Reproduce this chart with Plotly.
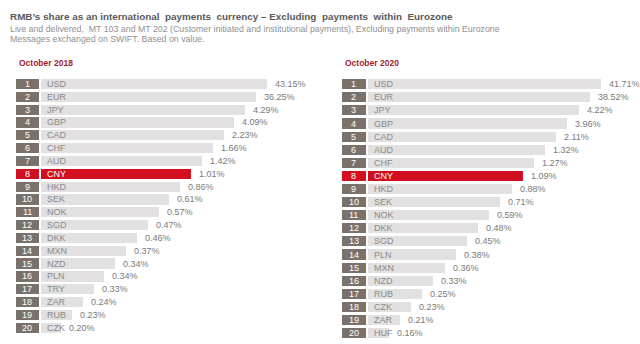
import plotly.graph_objects as go

# ---------------- data ----------------
ranks = list(range(1, 21))

cur_2018 = ["USD", "EUR", "JPY", "GBP", "CAD", "CHF", "AUD", "CNY", "HKD", "SEK",
            "NOK", "SGD", "DKK", "MXN", "NZD", "PLN", "TRY", "ZAR", "RUB", "CZK"]
val_2018 = [43.15, 36.25, 4.29, 4.09, 2.23, 1.66, 1.42, 1.01, 0.86, 0.61,
            0.57, 0.47, 0.46, 0.37, 0.34, 0.34, 0.33, 0.24, 0.23, 0.20]

cur_2020 = ["USD", "EUR", "JPY", "GBP", "CAD", "AUD", "CHF", "CNY", "HKD", "SEK",
            "NOK", "DKK", "SGD", "PLN", "MXN", "NZD", "RUB", "CZK", "ZAR", "HUF"]
val_2020 = [41.71, 38.52, 4.22, 3.96, 2.11, 1.32, 1.27, 1.09, 0.88, 0.71,
            0.59, 0.48, 0.45, 0.38, 0.36, 0.33, 0.25, 0.23, 0.21, 0.16]

highlight = "CNY"
title = "RMB\u2019s share as an international  payments  currency \u2013 Excluding  payments  within  Eurozone"
subtitle1 = "Live and delivered,  MT 103 and MT 202 (Customer initiated and institutional payments), Excluding payments within Eurozone"
subtitle2 = "Messages exchanged on SWIFT. Based on value."
panel_titles = ["October 2018", "October 2020"]

# ---------------- style ----------------
FONT = "Arial, Liberation Sans, sans-serif"
BOX = "#7b716b"
BAR = "#e2e0e0"
RED = "#d20f1f"
DARKRED = "#a31b34"
TXT = "#8a8a8a"
VTXT = "#7a7a7a"
BOX_BASE = -2.33
BOX_W = 2.15

fig = go.Figure()

panels = [
    dict(cur=cur_2018, val=val_2018, xa="x", ya="y", bw=0.80),
    dict(cur=cur_2020, val=val_2020, xa="x2", ya="y2", bw=0.77),
]

annotations = []
for p in panels:
    # The infographic's bar length encodes the rank (not the value)
    lengths = [21.85 - r for r in ranks]
    bar_cols = [RED if c == highlight else BAR for c in p["cur"]]
    box_cols = [RED if c == highlight else BOX for c in p["cur"]]
    fig.add_trace(go.Bar(
        y=ranks, x=[BOX_W] * len(ranks), base=BOX_BASE, orientation="h",
        marker=dict(color=box_cols, line=dict(width=0)), width=p["bw"],
        xaxis=p["xa"], yaxis=p["ya"], hoverinfo="skip", showlegend=False))
    fig.add_trace(go.Bar(
        y=ranks, x=lengths, base=0, orientation="h",
        marker=dict(color=bar_cols, line=dict(width=0)), width=p["bw"],
        xaxis=p["xa"], yaxis=p["ya"], hoverinfo="skip", showlegend=False))
    for r, c, v, L in zip(ranks, p["cur"], p["val"], lengths):
        hi = c == highlight
        annotations.append(dict(
            x=BOX_BASE + BOX_W / 2, y=r, xref=p["xa"], yref=p["ya"], text=str(r),
            showarrow=False, xanchor="center", yanchor="middle",
            font=dict(family=FONT, size=9, color="white")))
        annotations.append(dict(
            x=0, y=r, xref=p["xa"], yref=p["ya"], text=c, xshift=4,
            showarrow=False, xanchor="left", yanchor="middle",
            font=dict(family=FONT, size=9, color="white" if hi else TXT)))
        annotations.append(dict(
            x=L, y=r, xref=p["xa"], yref=p["ya"], text=f"{v:.2f}%", xshift=6,
            showarrow=False, xanchor="left", yanchor="middle",
            font=dict(family=FONT, size=9, color=VTXT)))

H = 344.0
def py(px):
    return 1 - px / H

annotations += [
    dict(x=8 / 640, y=py(16.5), xref="paper", yref="paper", text=f"<b>{title}</b>",
         showarrow=False, xanchor="left", yanchor="middle",
         font=dict(family=FONT, size=9.9, color="#595959")),
    dict(x=8 / 640, y=py(29), xref="paper", yref="paper", text=subtitle1,
         showarrow=False, xanchor="left", yanchor="middle",
         font=dict(family=FONT, size=8.8, color="#8f8f8f")),
    dict(x=8 / 640, y=py(39.5), xref="paper", yref="paper", text=subtitle2,
         showarrow=False, xanchor="left", yanchor="middle",
         font=dict(family=FONT, size=8.8, color="#8f8f8f")),
    dict(x=17 / 640, y=py(63), xref="paper", yref="paper", text=f"<b>{panel_titles[0]}</b>",
         showarrow=False, xanchor="left", yanchor="middle",
         font=dict(family=FONT, size=8.5, color=DARKRED)),
    dict(x=343 / 640, y=py(63), xref="paper", yref="paper", text=f"<b>{panel_titles[1]}</b>",
         showarrow=False, xanchor="left", yanchor="middle",
         font=dict(family=FONT, size=8.5, color=DARKRED)),
]

kL, x0L = 10.84, 41.0
kR, x0R = 11.17, 368.0
ax_common = dict(visible=False, showgrid=False, zeroline=False, fixedrange=True)
fig.update_layout(
    width=640, height=344,
    margin=dict(l=0, r=0, t=0, b=0),
    paper_bgcolor="white", plot_bgcolor="rgba(0,0,0,0)",
    barmode="overlay", bargap=0,
    xaxis=dict(domain=[0, 0.5], range=[(0 - x0L) / kL, (320 - x0L) / kL], **ax_common),
    xaxis2=dict(domain=[0.5, 1], range=[(320 - x0R) / kR, (640 - x0R) / kR], anchor="y2", **ax_common),
    yaxis=dict(domain=[0, 1], range=[1 + (H - 84.0) / 12.83, 1 - 84.0 / 12.83], **ax_common),
    yaxis2=dict(domain=[0, 1], range=[1 + (H - 84.2) / 13.1, 1 - 84.2 / 13.1], anchor="x2", **ax_common),
    annotations=annotations,
)

fig.write_html("out.html")
